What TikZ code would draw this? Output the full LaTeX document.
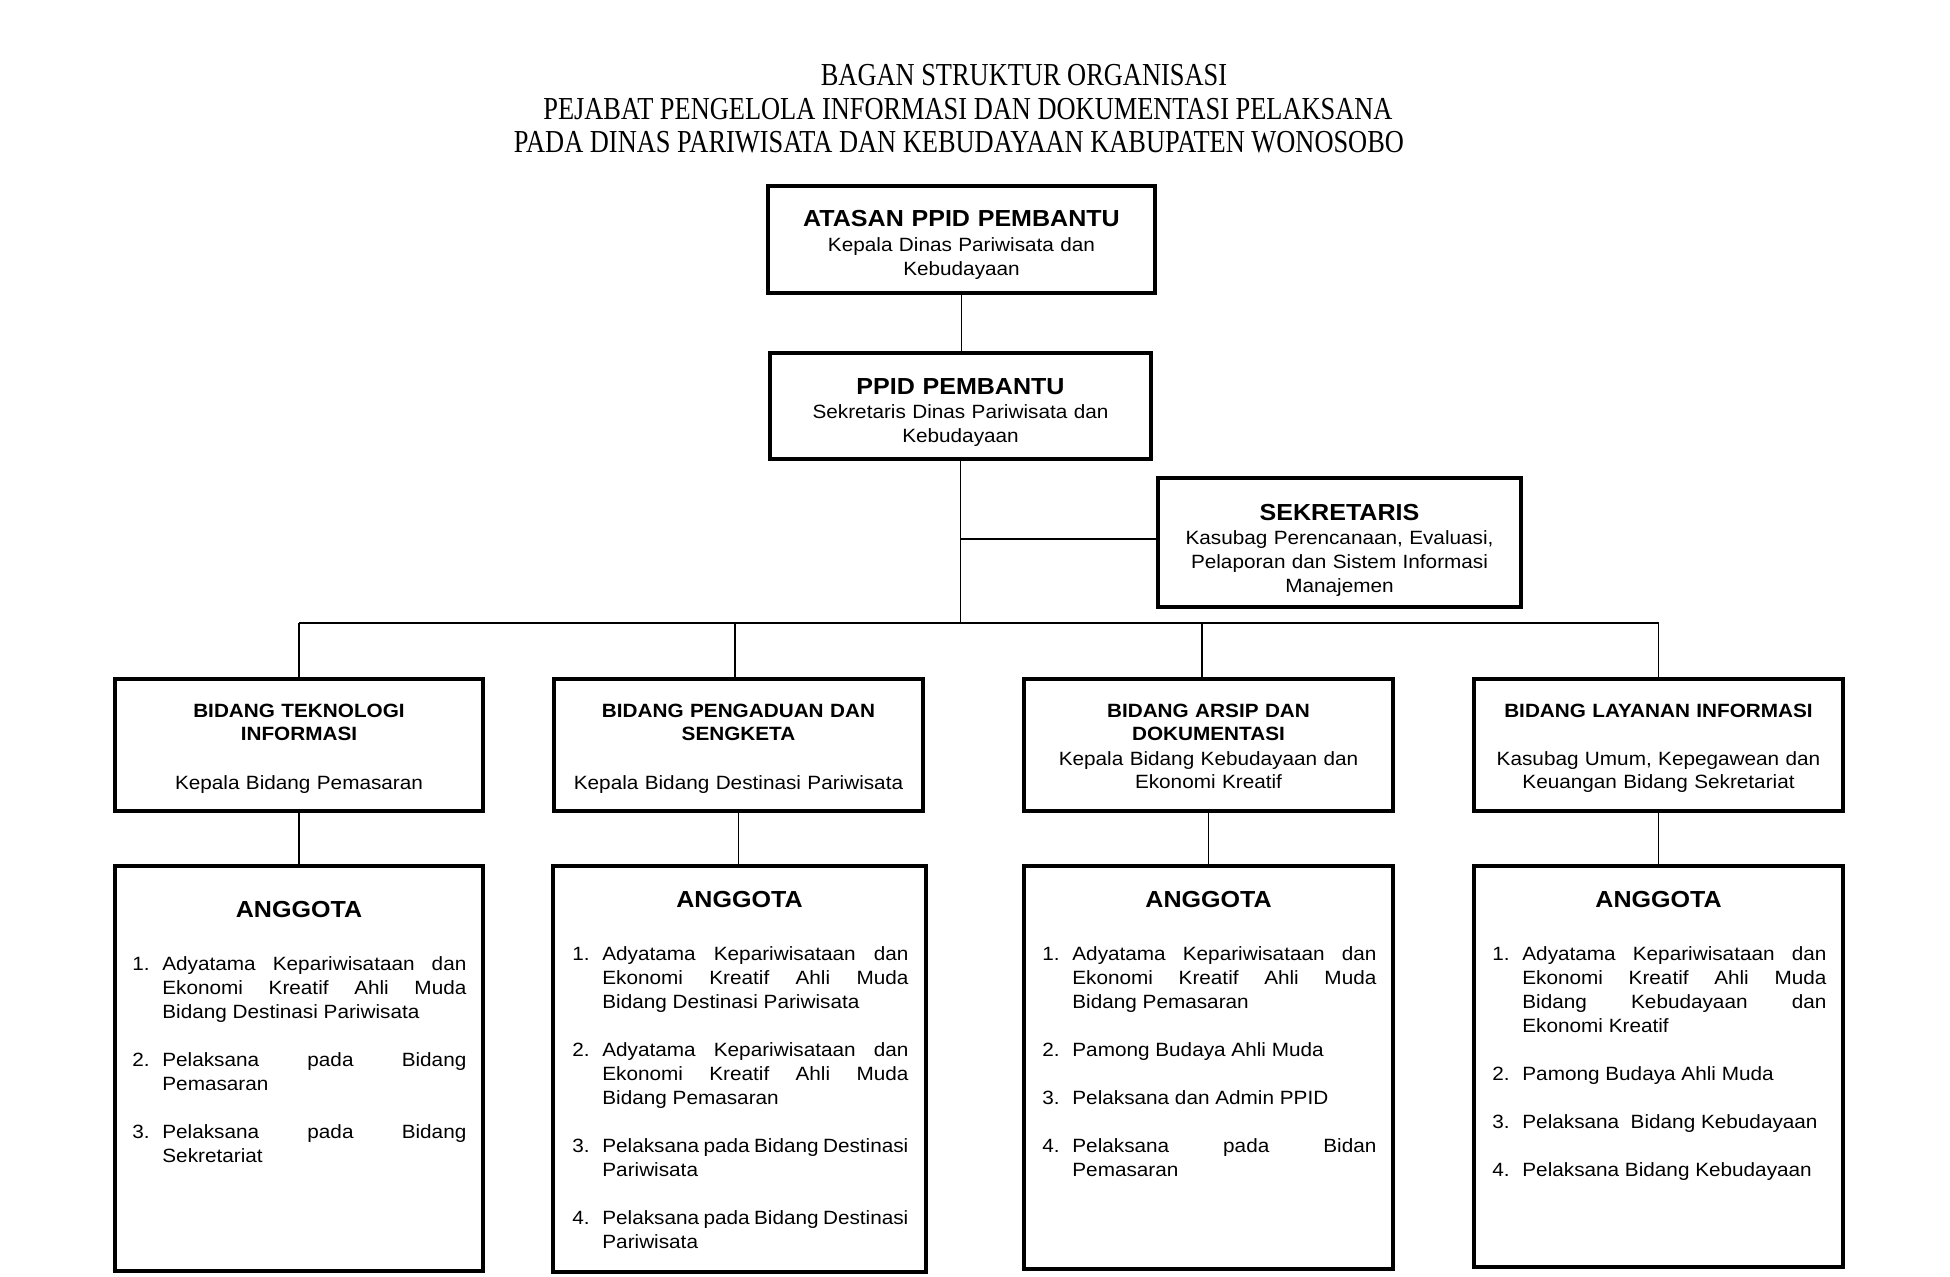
\documentclass[tikz,border=0pt]{standalone}
\usepackage{fontspec}
\setmainfont{Liberation Sans}[FakeStretch=1.08]
\newfontfamily\titlefont{Liberation Serif}[FakeStretch=0.825]
\usetikzlibrary{fit}
\newcommand\itm[2]{\par\hangindent=15pt\hangafter=1\noindent\makebox[15pt][l]{#1}#2\par}
\newcommand\lstset{\tolerance=10000\hyphenpenalty=10000\exhyphenpenalty=10000\parskip=12pt\parindent=0pt\relax}
\newcommand\lstbox[2]{\parbox[t]{#1}{\lstset#2}}
\begin{document}
\begin{tikzpicture}[x=0.5pt,y=-0.5pt,
  boxs/.style={draw, line width=1.8pt, inner sep=0pt},
  conn/.style={line width=0.8pt},
  ttl/.style={font=\titlefont\fontsize{16}{19}\selectfont, anchor=base, inner sep=0pt},
  hd/.style={font=\fontsize{11.6}{14}\selectfont\bfseries, anchor=base, inner sep=0pt, text width=185pt, align=center},
  bhd/.style={font=\fontsize{9.6}{11.5}\selectfont\bfseries, anchor=base, inner sep=0pt, text width=180pt, align=center},
  tx/.style={font=\fontsize{9.6}{12}\selectfont, anchor=base, inner sep=0pt, text width=185pt, align=center},
  btx/.style={font=\fontsize{9.6}{11.5}\selectfont, anchor=base, inner sep=0pt, text width=180pt, align=center},
  lst/.style={font=\fontsize{9.6}{12}\selectfont, anchor=base west, inner sep=0pt},
]
\fill[white] (0,0) rectangle (1950,1276);
\useasboundingbox (0,0) rectangle (1950,1276);

% title
\node[ttl] (t1) at (1024,85) {BAGAN STRUKTUR ORGANISASI};
\node[ttl] (t2) at (968,119) {PEJABAT PENGELOLA INFORMASI DAN DOKUMENTASI PELAKSANA};
\node[ttl] (t3) at (959,152) {PADA DINAS PARIWISATA DAN KEBUDAYAAN KABUPATEN WONOSOBO};

% top boxes
\node[boxs, fit={(768,186) (1155,293)}] (atasan) {};
\node[hd] (atasanh) at (961.5,226) {ATASAN PPID PEMBANTU};
\node[tx] (atasant) at (961.5,251) {Kepala Dinas Pariwisata dan\\Kebudayaan};

\node[boxs, fit={(770,353) (1151,459)}] (ppid) {};
\node[hd] (ppidh) at (960.5,394) {PPID PEMBANTU};
\node[tx] (ppidt) at (960.5,418) {Sekretaris Dinas Pariwisata dan\\Kebudayaan};

\node[boxs, fit={(1158,478) (1521,607)}] (sek) {};
\node[hd] (sekh) at (1339.5,520) {SEKRETARIS};
\node[tx] (sekt) at (1339.5,544) {Kasubag Perencanaan, Evaluasi,\\Pelaporan dan Sistem Informasi\\Manajemen};

% bidang boxes
\node[boxs, fit={(115,679) (483,811)}] (b1) {};
\node[bhd] (b1h) at (299,717) {BIDANG TEKNOLOGI\\INFORMASI};
\node[btx] (b1t) at (299,789) {Kepala Bidang Pemasaran};

\node[boxs, fit={(554,679) (923,811)}] (b2) {};
\node[bhd] (b2h) at (738.5,717) {BIDANG PENGADUAN DAN\\SENGKETA};
\node[btx] (b2t) at (738.5,789) {Kepala Bidang Destinasi Pariwisata};

\node[boxs, fit={(1024,679) (1393,811)}] (b3) {};
\node[bhd] (b3h) at (1208.5,717) {BIDANG ARSIP DAN\\DOKUMENTASI};
\node[btx] (b3t) at (1208.5,765) {Kepala Bidang Kebudayaan dan\\Ekonomi Kreatif};

\node[boxs, fit={(1474,679) (1843,811)}] (b4) {};
\node[bhd] (b4h) at (1658.5,717) {BIDANG LAYANAN INFORMASI};
\node[btx] (b4t) at (1658.5,765) {Kasubag Umum, Kepegawean dan\\Keuangan Bidang Sekretariat};

% anggota boxes
\node[boxs, fit={(115,866) (483,1271)}] (a1) {};
\node[hd] (a1h) at (299,917) {ANGGOTA};
\node[lst] (a1t) at (132,970) {\lstbox{167pt}{%
\itm{1.}{Adyatama Kepariwisataan dan\linebreak Ekonomi Kreatif Ahli Muda\linebreak Bidang Destinasi Pariwisata}
\itm{2.}{Pelaksana pada Bidang\linebreak Pemasaran}
\itm{3.}{Pelaksana pada Bidang\linebreak Sekretariat}}};

\node[boxs, fit={(553,866) (926,1272)}] (a2) {};
\node[hd] (a2h) at (739.5,907) {ANGGOTA};
\node[lst] (a2t) at (572,960) {\lstbox{168pt}{%
\itm{1.}{Adyatama Kepariwisataan dan\linebreak Ekonomi Kreatif Ahli Muda\linebreak Bidang Destinasi Pariwisata}
\itm{2.}{Adyatama Kepariwisataan dan\linebreak Ekonomi Kreatif Ahli Muda\linebreak Bidang Pemasaran}
\itm{3.}{Pelaksana pada Bidang Destinasi\linebreak Pariwisata}
\itm{4.}{Pelaksana pada Bidang Destinasi\linebreak Pariwisata}}};

\node[boxs, fit={(1024,866) (1393,1269)}] (a3) {};
\node[hd] (a3h) at (1208.5,907) {ANGGOTA};
\node[lst] (a3t) at (1042,960) {\lstbox{167pt}{%
\itm{1.}{Adyatama Kepariwisataan dan\linebreak Ekonomi Kreatif Ahli Muda\linebreak Bidang Pemasaran}
\itm{2.}{Pamong Budaya Ahli Muda}
\itm{3.}{Pelaksana dan Admin PPID}
\itm{4.}{Pelaksana pada Bidan\linebreak Pemasaran}}};

\node[boxs, fit={(1474,866) (1843,1267)}] (a4) {};
\node[hd] (a4h) at (1658.5,907) {ANGGOTA};
\node[lst] (a4t) at (1492,960) {\lstbox{167pt}{%
\itm{1.}{Adyatama Kepariwisataan dan\linebreak Ekonomi Kreatif Ahli Muda\linebreak Bidang Kebudayaan dan\linebreak Ekonomi Kreatif}
\itm{2.}{Pamong Budaya Ahli Muda}
\itm{3.}{Pelaksana\hspace{0.3em} Bidang Kebudayaan}
\itm{4.}{Pelaksana Bidang Kebudayaan}}};

% connectors
\coordinate (busy) at (0,623);
\coordinate (seky) at (0,539);
\draw[conn] (atasan.south) -- (atasan.south |- ppid.north);
\draw[conn] (ppid.south) -- (ppid.south |- busy);
\draw[conn] (ppid.south |- seky) -- (sek.west |- seky);
\draw[conn] (b1.north |- busy) -- (b4.north |- busy);
\draw[conn] (b1.north |- busy) -- (b1.north);
\draw[conn] ([xshift=-1.75pt]b2.north |- busy) -- ([xshift=-1.75pt]b2.north);
\draw[conn] ([xshift=-3.25pt]b3.north |- busy) -- ([xshift=-3.25pt]b3.north);
\draw[conn] (b4.north |- busy) -- (b4.north);
\draw[conn] (b1.south) -- (b1.south |- a1.north);
\draw[conn] (b2.south) -- (b2.south |- a2.north);
\draw[conn] (b3.south) -- (b3.south |- a3.north);
\draw[conn] (b4.south) -- (b4.south |- a4.north);
\end{tikzpicture}
\end{document}
